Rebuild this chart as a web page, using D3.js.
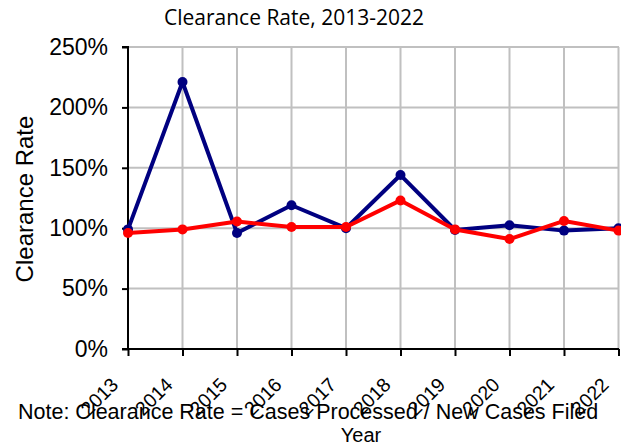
<!DOCTYPE html>
<html>
<head>
<meta charset="utf-8">
<script src="https://cdn.jsdelivr.net/npm/d3@7"></script>
<style>
  body { margin: 0; background: #fff; }
  text { font-family: "Liberation Sans", Arial, sans-serif; }
</style>
</head>
<body>
<svg id="chart"></svg>
<script>
// values (percent)
var years = ["2013", "2014", "2015", "2016", "2017", "2018", "2019", "2020", "2021", "2022"];
var seriesA = [99, 221, 96, 119, 100, 144, 98.5, 102.5, 98, 100];
var seriesB = [96, 99, 105.5, 101, 101, 123, 99, 91, 106, 98];
var yTicks = [0, 50, 100, 150, 200, 250];

var W = 621, H = 445;
var margin = {top: 47, right: 2, bottom: 96, left: 128};
var width = W - margin.left - margin.right;
var height = H - margin.top - margin.bottom;

var svg = d3.select('#chart')
    .attr('width', W)
    .attr('height', H);

var g = svg.append('g')
    .attr('transform', 'translate(' + margin.left + ',' + margin.top + ')');

var xScale = d3.scalePoint()
    .domain(years)
    .range([0, width - 0.5]);

var yScale = d3.scaleLinear()
    .domain([0, 250])
    .range([height, 0]);

// grid
g.append('g').selectAll('line')
    .data(yTicks.slice(1))
    .enter().append('line')
    .attr('x1', 0).attr('x2', width)
    .attr('y1', function (d) { return yScale(d); })
    .attr('y2', function (d) { return yScale(d); })
    .attr('stroke', '#c0c0c0').attr('stroke-width', 2);

g.append('g').selectAll('line')
    .data(years.slice(1))
    .enter().append('line')
    .attr('x1', function (d) { return xScale(d); })
    .attr('x2', function (d) { return xScale(d); })
    .attr('y1', 0).attr('y2', height)
    .attr('stroke', '#c0c0c0').attr('stroke-width', 2);

// axes
var yAxis = d3.axisLeft(yScale)
    .tickValues(yTicks)
    .tickSize(6)
    .tickPadding(14)
    .tickFormat(function (d) { return d + '%'; });
var yg = g.append('g').call(yAxis);
yg.select('.domain').attr('stroke', '#000').attr('stroke-width', 2).attr('d', 'M-6,0H0V' + height + 'H-6');
yg.selectAll('.tick line').attr('stroke-width', 2);
yg.selectAll('.tick text').attr('font-size', 23).attr('fill', '#000')
    .attr('font-family', '"Liberation Sans", Arial, sans-serif');

var xAxis = d3.axisBottom(xScale).tickSize(7).tickPadding(0);
var xg = g.append('g')
    .attr('transform', 'translate(0,' + height + ')')
    .call(xAxis);
xg.select('.domain').attr('stroke', '#000').attr('stroke-width', 2).attr('d', 'M0,0H' + width);
xg.selectAll('.tick line').attr('stroke-width', 2);
xg.selectAll('.tick text')
    .attr('font-size', 19.5).attr('fill', '#000')
    .attr('font-family', '"Liberation Sans", Arial, sans-serif')
    .attr('text-anchor', 'end')
    .attr('dy', null)
    .attr('y', 0)
    .attr('transform', 'translate(-9,37) rotate(-45)');

// lines
var line = d3.line()
    .x(function (d) { return xScale(d.year); })
    .y(function (d) { return yScale(d.value); });

function drawSeries(vals, color) {
    var data = years.map(function (y, i) { return {year: y, value: vals[i]}; });
    g.append('path')
        .datum(data)
        .attr('fill', 'none')
        .attr('stroke', color)
        .attr('stroke-width', 4)
        .attr('stroke-linejoin', 'round')
        .attr('d', line);
    g.append('g').selectAll('circle')
        .data(data)
        .enter().append('circle')
        .attr('cx', function (d) { return xScale(d.year); })
        .attr('cy', function (d) { return yScale(d.value); })
        .attr('r', 5)
        .attr('fill', color);
}
drawSeries(seriesA, '#000080');
drawSeries(seriesB, '#ff0000');

// titles
svg.append('text')
    .attr('x', 294).attr('y', 25)
    .attr('text-anchor', 'middle')
    .style('font-family', '"Open Sans", sans-serif')
    .attr('font-size', 21)
    .text('Clearance Rate, 2013-2022');

svg.append('text')
    .attr('transform', 'translate(33,199) rotate(-90)')
    .attr('text-anchor', 'middle')
    .attr('font-size', 24)
    .text('Clearance Rate');

svg.append('text')
    .attr('x', 18).attr('y', 419)
    .attr('font-size', 21.5)
    .text('Note: Clearance Rate = Cases Processed / New Cases Filed');

svg.append('text')
    .attr('x', 361).attr('y', 442)
    .attr('text-anchor', 'middle')
    .attr('font-size', 20)
    .text('Year');
</script>
</body>
</html>
